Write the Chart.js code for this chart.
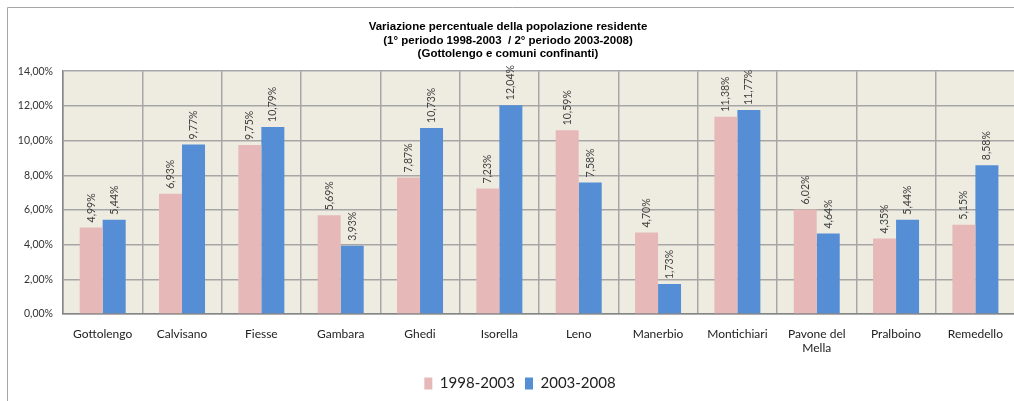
<!DOCTYPE html>
<html lang="it">
<head>
  <meta charset="UTF-8" />
  <title>Variazione percentuale della popolazione residente</title>
  <script src="https://cdn.jsdelivr.net/npm/chart.js"></script>
  <style>
    html, body { margin: 0; padding: 0; background: #fff; overflow: hidden; }
    #wrap { width: 1014px; height: 401px; overflow: hidden; }
  </style>
</head>
<body>
  <div id="wrap"><canvas id="popChart" width="1016" height="401"></canvas></div>

  <script>
    const comuni = ['Gottolengo', 'Calvisano', 'Fiesse', 'Gambara', 'Ghedi', 'Isorella', 'Leno',
      'Manerbio', 'Montichiari', ['Pavone del', 'Mella'], 'Pralboino', 'Remedello'];
    const periodo1 = [4.99, 6.93, 9.75, 5.69, 7.87, 7.23, 10.59, 4.70, 11.38, 6.02, 4.35, 5.15];
    const periodo2 = [5.44, 9.77, 10.79, 3.93, 10.73, 12.04, 7.58, 1.73, 11.77, 4.64, 5.44, 8.58];
    const titolo = [
      'Variazione percentuale della popolazione residente',
      '(1° periodo 1998-2003  / 2° periodo 2003-2008)',
      '(Gottolengo e comuni confinanti)'
    ];

    const perc = v => v.toFixed(2).replace('.', ',') + '%';

    // frame of the chart object and plot background
    const sfondo = {
      id: 'sfondo',
      afterLayout(chart) {
        // legend sits a little right of centre
        chart.legend.left += 12;
        chart.legend.right += 12;
      },
      beforeDraw(chart) {
        const ctx = chart.ctx, a = chart.chartArea;
        ctx.save();
        ctx.strokeStyle = '#a6a6a6';
        ctx.lineWidth = 1;
        ctx.beginPath();
        ctx.moveTo(7.5, 420);
        ctx.lineTo(7.5, 7.5);
        ctx.lineTo(1100, 7.5);
        ctx.stroke();
        ctx.fillStyle = '#eeece1';
        ctx.fillRect(a.left, a.top, a.right - a.left, a.bottom - a.top);
        ctx.restore();
      }
    };

    // vertical value labels above each bar
    const etichette = {
      id: 'etichette',
      afterDatasetsDraw(chart) {
        const ctx = chart.ctx;
        ctx.save();
        ctx.font = '10.5px Lato, "Liberation Sans", sans-serif';
        ctx.fillStyle = '#404040';
        ctx.textAlign = 'left';
        ctx.textBaseline = 'middle';
        chart.data.datasets.forEach((ds, i) => {
          chart.getDatasetMeta(i).data.forEach((bar, j) => {
            ctx.save();
            ctx.translate(bar.x, bar.y - 5);
            ctx.rotate(-Math.PI / 2);
            ctx.fillText(perc(ds.data[j]), 0, 0);
            ctx.restore();
          });
        });
        ctx.restore();
      }
    };

    new Chart(document.getElementById('popChart'), {
      type: 'bar',
      data: {
        labels: comuni,
        datasets: [
          { label: '1998-2003', data: periodo1, backgroundColor: '#e6b9b8' },
          { label: '2003-2008', data: periodo2, backgroundColor: '#558ed5' }
        ]
      },
      options: {
        responsive: false,
        animation: false,
        events: [],
        layout: { padding: { left: 0, right: 0, top: 0, bottom: 0 } },
        datasets: { bar: { categoryPercentage: 0.58, barPercentage: 1 } },
        scales: {
          x: {
            grid: { color: '#a6a6a6', lineWidth: 1.5, drawTicks: false, offset: true },
            border: { color: '#868686', width: 1.5 },
            ticks: {
              color: '#222',
              font: { family: 'Lato, "Liberation Sans", sans-serif', size: 12 },
              padding: 13,
              maxRotation: 0,
              autoSkip: false
            },
            afterFit(scale) { scale.height = 52; }
          },
          y: {
            min: 0,
            max: 14,
            grid: { color: '#a6a6a6', lineWidth: 1.5, drawTicks: false },
            border: { color: '#868686', width: 1.5 },
            ticks: {
              stepSize: 2,
              color: '#333',
              padding: 10,
              font: { family: 'Lato, "Liberation Sans", sans-serif', size: 10.5 },
              callback: v => perc(v)
            },
            afterFit(scale) { scale.width = 63; }
          }
        },
        plugins: {
          title: {
            display: true,
            text: titolo,
            color: '#000',
            font: { family: '"Liberation Sans", sans-serif', size: 11.5, weight: 'bold', lineHeight: 1.18 },
            padding: { top: 20, bottom: 10.5 }
          },
          legend: {
            position: 'bottom',
            labels: {
              color: '#222',
              font: { family: 'Lato, "Liberation Sans", sans-serif', size: 15 },
              boxWidth: 8,
              boxHeight: 12,
              padding: 10
            }
          },
          tooltip: { enabled: false }
        }
      },
      plugins: [sfondo, etichette]
    });
  </script>
</body>
</html>
